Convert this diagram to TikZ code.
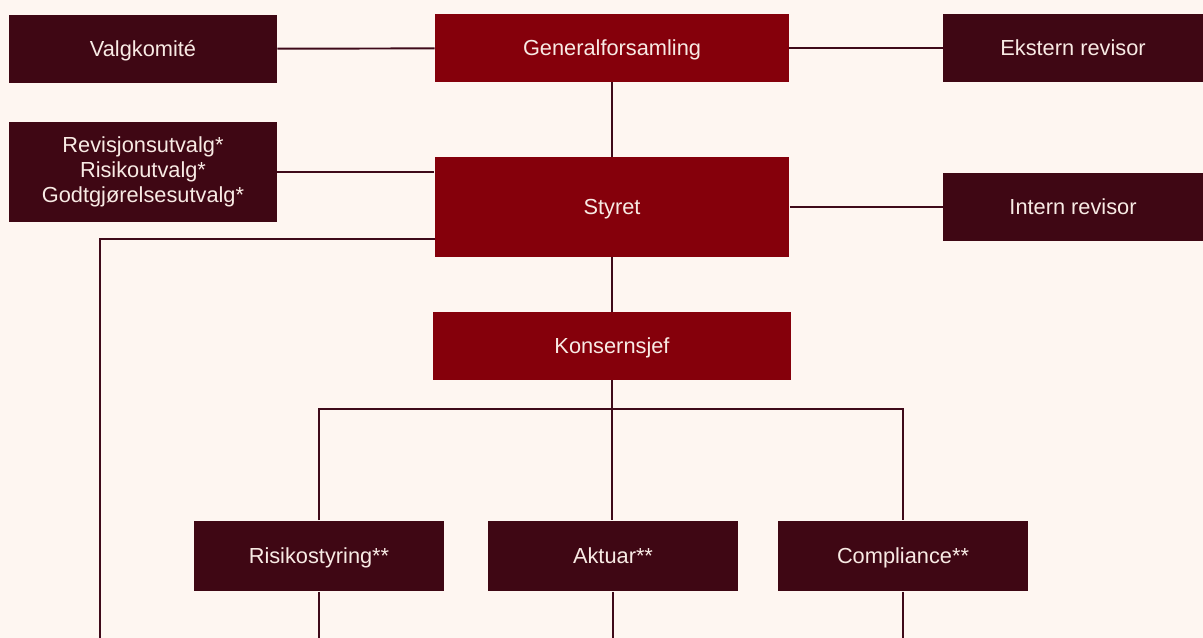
\documentclass[tikz,border=0pt]{standalone}
\usepackage{fontspec}
\setmainfont{Liberation Sans}
\usetikzlibrary{calc,positioning}
\definecolor{bgcream}{HTML}{FEF6F1}
\definecolor{boardred}{HTML}{85000B}
\definecolor{darkwine}{HTML}{3F0714}
\definecolor{linewine}{HTML}{3F0A1A}
\definecolor{boxtext}{HTML}{F8EAE4}

\begin{document}
\begin{tikzpicture}[x=0.02cm,y=-0.02cm,
    box/.style={rectangle, fill=darkwine, text=boxtext, inner sep=0pt,
      align=center, text height=1em, text depth=.2em,
      font=\fontsize{12.4}{14.2}\selectfont},
    redbox/.style={box, fill=boardred},
    link/.style={draw=linewine, line width=1.1pt}]

  \fill [bgcream] (0,0) rectangle (1203,638);
  \useasboundingbox (0,0) rectangle (1203,638);

  % top row
  \node [box, minimum width=5.36cm, minimum height=1.36cm] at (143,49) (valg) {Valgkomité};
  \node [redbox, minimum width=7.08cm, minimum height=1.36cm] at (612,48) (genfors) {Generalforsamling};
  \node [box, minimum width=5.2cm, minimum height=1.38cm] at (1073,48) (ekstern) {Ekstern revisor};

  % board row
  \node [box, text height=, text depth=, minimum width=5.36cm, minimum height=2cm] at (143,172) (utvalg) {Revisjonsutvalg*\\Risikoutvalg*\\Godtgjørelsesutvalg*};
  \node [redbox, minimum width=7.1cm, minimum height=2cm] at (612,207) (styret) {Styret};
  \node [box, minimum width=5.2cm, minimum height=1.38cm] at (1073,207) (intern) {Intern revisor};

  \node [redbox, minimum width=7.18cm, minimum height=1.36cm] at (612,346) (konsern) {Konsernsjef};

  % control functions
  \begin{scope}[every node/.style={box, minimum width=5cm, minimum height=1.42cm}]
    \node at (319,556) (risiko) {Risikostyring**};
    \node at (613,556) (aktuar) {Aktuar**};
    \node at (903,556) (compliance) {Compliance**};
  \end{scope}

  \coordinate (branch) at (612,409);
  \coordinate (loopstart) at (435,239);
  \coordinate (loopend) at (100,638);

  \draw [link] (valg) -- (genfors);
  \draw [link] (genfors) -- (ekstern);
  \draw [link] (genfors) -- (styret);
  \draw [link] (utvalg.east) -- (utvalg.east -| styret.west);
  \draw [link] (styret) -- (intern);
  \draw [link] (loopstart) -| (loopend);
  \draw [link] (styret) -- (konsern);
  \draw [link] (konsern.south) -- (branch);
  \draw [link] (risiko.north) |- (branch) -| (compliance.north);
  \draw [link] (branch) -- (branch |- aktuar.north);

  \foreach \f in {risiko,aktuar,compliance}
  {
    \coordinate (\f_end) at (\f.south |- loopend);
    \draw [link] (\f.south) -- (\f_end);
  }

\end{tikzpicture}
\end{document}
